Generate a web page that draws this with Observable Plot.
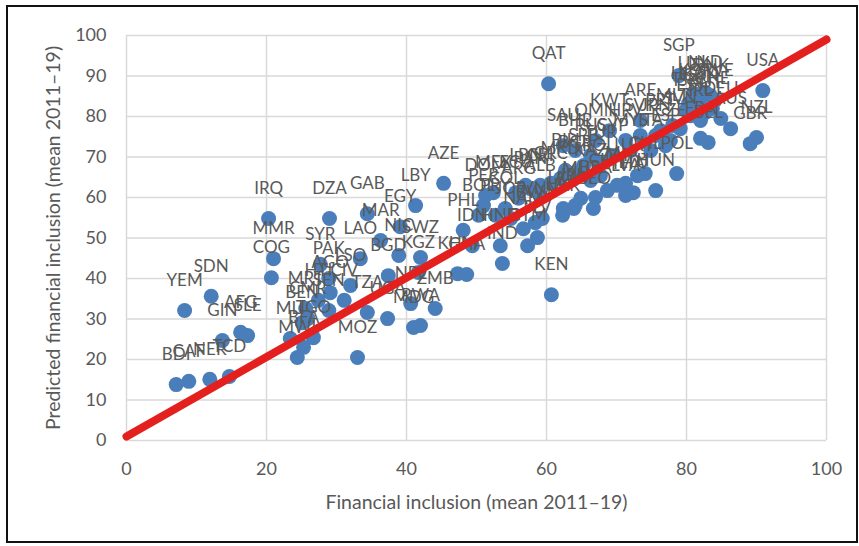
<!DOCTYPE html>
<html>
<head>
<meta charset="utf-8">
<script src="https://cdn.jsdelivr.net/npm/d3@7"></script>
<script src="https://cdn.jsdelivr.net/npm/@observablehq/plot@0.6"></script>
<style>
  html, body { margin: 0; padding: 0; background: #fff; }
  #wrap { position: relative; width: 859px; height: 546px; overflow: hidden; }
  #frame { position: absolute; left: 6px; top: 5px; width: 852px; height: 538px;
           border: 2px solid #111; box-sizing: border-box; pointer-events: none; }
  svg { display: block; }
</style>
</head>
<body>
<div id="wrap"><div id="chart"></div><div id="frame"></div></div>
<script>
const codes = ["BDI","CAF","NER","TCD","YEM","SDN","GIN","AFG","SLE","IRQ","MMR","COG","DZA","SYR","PAK","LSO","CIV","AGO","SEN","MRT","CMR","BEN","TGO","BFA","MWI","MLI","HTI","MOZ","TZA","UGA","BGD","NPL","ZMB","MDG","RWA","LAO","MAR","NIC","SWZ","KGZ","LBY","EGY","GAB","AZE","KHM","GHA","PHL","IDN","IND","HND","GTM","SLV","PER","DOM","MEX","COL","ARG","ECU","PAN","CRI","PRY","JOR","VNM","UKR","ARM","GEO","BRA","ZAF","THA","GRC","BIH","BGR","SRB","MKD","ALB","LBN","KAZ","ROU","RUS","TUR","CYP","SAU","KWT","ARE","MYS","HRV","SVK","POL","HUN","CHL","URY","LTU","LVA","MNG","CHN","PRT","ESP","ITA","CZE","SVN","EST","MLT","KOR","JPN","FRA","BEL","IRL","HKG","ISR","AUT","LUX","SGP","CAN","DNK","SWE","NLD","CHE","NZL","GBR","AUS","DEU","USA","QAT","KEN","BWA","NAM","MUS","IRN","LKA","BOL","BHR","OMN"];
const financialInclusion = [7.1,8.9,11.9,14.7,8.3,12.1,13.7,16.3,17.3,20.3,21.0,20.7,29.0,27.7,28.9,32.0,31.1,29.1,28.9,25.6,25.9,25.1,26.7,25.3,24.4,23.4,27.4,33.0,34.4,37.3,37.4,40.6,44.1,41.0,42.0,33.4,36.3,38.9,42.0,41.7,41.3,39.1,34.4,45.3,47.3,48.6,48.1,49.4,53.7,53.4,57.3,58.7,51.0,51.3,52.4,54.1,56.0,55.6,57.7,59.1,52.7,54.9,59.4,62.3,63.9,66.7,67.0,70.1,71.6,60.6,62.7,64.1,65.3,62.0,59.1,57.0,66.3,67.7,66.3,67.7,69.4,62.4,69.0,73.4,72.0,71.3,73.4,78.6,75.6,74.1,73.0,72.4,71.3,71.3,68.7,76.3,77.0,74.9,77.7,79.1,80.6,78.0,81.3,75.6,82.0,83.1,82.0,80.3,79.9,82.7,81.0,78.9,82.0,83.4,84.1,82.7,83.7,90.0,89.1,86.3,84.9,90.9,60.3,60.7,58.4,56.7,64.9,64.1,62.4,50.3,64.1,67.0];
const predictedInclusion = [13.8,14.6,15.1,15.8,32.1,35.6,24.7,26.7,25.9,54.8,44.9,40.2,54.8,43.5,40.0,38.3,34.6,36.5,32.1,32.6,30.1,29.1,25.4,23.0,20.5,25.2,34.6,20.5,31.6,30.1,40.7,33.8,32.6,27.9,28.4,44.9,49.4,45.7,45.2,41.5,58.0,52.8,56.0,63.5,41.2,41.0,51.9,48.1,43.7,48.1,48.1,50.1,58.0,60.5,61.2,57.3,59.8,61.2,62.2,63.0,55.6,54.8,54.8,55.6,57.3,57.3,60.0,63.0,61.0,63.5,66.7,66.2,67.9,64.7,60.5,63.0,64.2,65.4,70.4,68.6,70.4,72.8,76.5,79.0,71.6,74.1,75.3,65.9,61.7,65.9,65.4,61.2,60.5,63.5,61.7,76.5,72.8,71.6,74.1,77.0,80.2,77.8,84.0,75.3,74.6,73.6,79.0,83.2,81.5,81.0,85.7,90.1,82.7,85.2,84.0,85.9,82.0,74.8,73.3,77.0,79.5,86.4,88.1,36.0,53.8,52.3,59.8,58.0,57.3,55.6,71.6,74.1];
const xTicks = [0,20,40,60,80,100];
const yTicks = [0,10,20,30,40,50,60,70,80,90,100];
const fitX = [0,100];
const fitY = [1,99];
const xTitle = "Financial inclusion (mean 2011–19)";
const yTitle = "Predicted financial inclusion (mean 2011–19)";

const points = codes.map((c,i) => ({code:c, x:financialInclusion[i], y:predictedInclusion[i]}));
const fit = fitX.map((x,i) => ({x, y:fitY[i]}));

const chart = Plot.plot({
  width: 859, height: 546,
  marginLeft: 126, marginRight: 33, marginTop: 35, marginBottom: 106,
  style: {fontFamily: "Lato, 'Open Sans', sans-serif", fontSize: "17px", color: "#595959", background: "transparent"},
  x: {domain: [0,100], label: null},
  y: {domain: [0,100], label: null},
  marks: [
    Plot.gridX(xTicks, {stroke: "#d9d9d9", strokeOpacity: 1, strokeWidth: 1.5}),
    Plot.gridY(yTicks, {stroke: "#d9d9d9", strokeOpacity: 1, strokeWidth: 1.5}),
    Plot.axisX(xTicks, {tickSize: 0, tickPadding: 22, label: null, fill: "#595959", fontSize: 18, style: "letter-spacing: 0.6px"}),
    Plot.axisY(yTicks, {tickSize: 0, tickPadding: 20, label: null, fill: "#595959", fontSize: 18, style: "letter-spacing: 0.6px"}),
    Plot.dot(points, {x: "x", y: "y", r: 7.5, fill: "#4a7ebb", stroke: "none"}),
    Plot.text(points, {x: "x", y: "y", text: "code", dy: -30, fill: "#595959", fontSize: 17}),
    Plot.line(fit, {x: "x", y: "y", stroke: "#e3201d", strokeWidth: 8}),
    Plot.text([xTitle], {frameAnchor: "bottom", dy: 68, fill: "#595959", fontSize: 19.5}),
    Plot.text([yTitle], {frameAnchor: "left", textAnchor: "middle", dx: -73, rotate: -90, fill: "#595959", fontSize: 19.5})
  ]
});
document.getElementById("chart").appendChild(chart);
</script>
</body>
</html>
